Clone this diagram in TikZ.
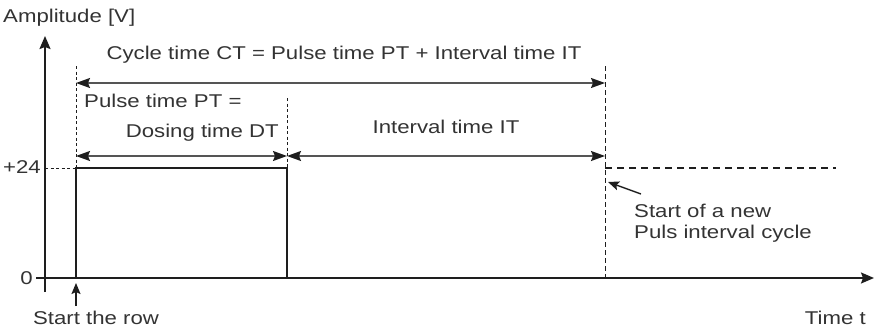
\documentclass[tikz,border=0pt]{standalone}
\usepackage{fontspec}
\setmainfont{Liberation Sans}[FakeStretch=1.2]
\usetikzlibrary{arrows.meta}
\definecolor{ink}{HTML}{1E1E1E}
\definecolor{dimc}{HTML}{555555}
\definecolor{txt}{HTML}{333333}
\tikzset{
  lbl/.style={text=txt, font=\fontsize{18.5}{22}\selectfont, inner sep=0pt},
  axis/.style={draw=ink, line width=1.8pt, -{Stealth[length=13pt,width=11pt,inset=2pt]}},
  sig/.style={draw=ink, line width=1.8pt},
  guide/.style={draw=ink, line width=0.9pt, dash pattern=on 3pt off 2.5pt},
  dim/.style={draw=dimc, line width=1.6pt, {Stealth[length=14pt,width=10pt,inset=2pt,color=ink]}-{Stealth[length=14pt,width=10pt,inset=2pt,color=ink]}},
  ptr/.style={draw=ink, line width=1.4pt, -{Stealth[length=11pt,width=9pt,inset=2pt]}}
}
\begin{document}
\begin{tikzpicture}[x=1pt,y=-1pt]
\useasboundingbox (0,0) rectangle (875,332);
% axes
\coordinate (ybot) at (45,292);
\coordinate (ytop) at (45,36);
\coordinate (xl) at (36,278);
\coordinate (xr) at (874,278);
\draw[axis] (ybot) -- (ytop);
\draw[axis] (xl) -- (xr);
\node[lbl, anchor=west] (amp) at (3,18) {Amplitude [V]};
\node[lbl, anchor=east] (l0) at (33,278) {0};
\node[lbl, anchor=east] (l24) at (41,167) {+24};
\node[lbl, anchor=east] (tt) at (866,318) {Time t};
% key points
\coordinate (p0) at (76,278);
\coordinate (p1) at (76,168);
\coordinate (p2) at (287,168);
\coordinate (p3) at (287,278);
\coordinate (c0) at (605,278);
\coordinate (c1) at (605,168);
\coordinate (yl24) at (45,168);
\coordinate (dEnd) at (836,168);
\coordinate (g0) at (76,66);
\coordinate (g1) at (287,98);
\coordinate (g2) at (605,66);
% pulse
\draw[sig] (p0) -- (p1) -- (p2) -- (p3);
% guides
\draw[guide] (yl24) -- (p1);
\draw[guide] (g0) -- (p1);
\draw[guide] (g1) -- (p2);
\draw[guide, dash pattern=on 5pt off 3pt] (g2) -- (c0);
\draw[guide, line width=1.1pt, dash pattern=on 7pt off 5pt] (c1) -- (dEnd);
% dimension arrows
\coordinate (a0) at (76,83);
\coordinate (a1) at (605,83);
\coordinate (b0) at (76,156);
\coordinate (b1) at (287,156);
\coordinate (b2) at (605,156);
\draw[dim] (a0) -- (a1);
\draw[dim] (b0) -- (b1);
\draw[dim] (b1) -- (b2);
\node[lbl] (ct) at (344,55) {Cycle time CT = Pulse time PT + Interval time IT};
\node[lbl, anchor=west] (pt) at (84,101) {Pulse time PT =};
\node[lbl, anchor=east] (dt) at (279,133) {Dosing time DT};
\node[lbl] (it) at (446,127) {Interval time IT};
% start of row
\node[lbl] (sr) at (96,318) {Start the row};
\coordinate (srt) at (76,283);
\coordinate (srb) at (76,306);
\draw[ptr] (srb) -- (srt);
% new cycle
\node[lbl, anchor=west] (nc1) at (634,211) {Start of a new};
\node[lbl, anchor=west] (nc2) at (634,234) {Puls interval cycle};
\coordinate (nct) at (608,182);
\coordinate (ncb) at (641,194);
\draw[ptr] (ncb) -- (nct);
\end{tikzpicture}
\end{document}
